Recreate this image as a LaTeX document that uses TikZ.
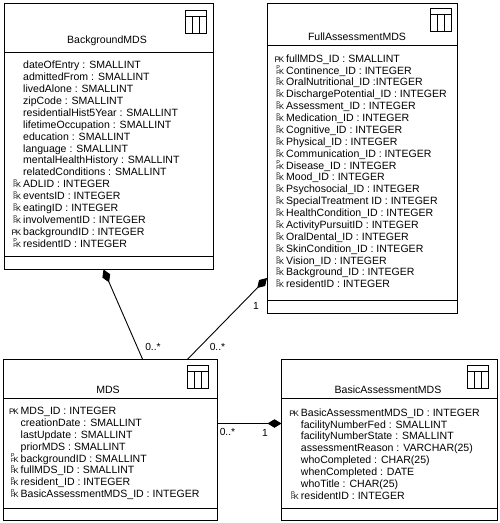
\documentclass[tikz,border=0pt]{standalone}
\usepackage{fontspec}
\setmainfont{Liberation Sans}
\usetikzlibrary{arrows.meta}
\newcommand{\keymark}[1]{\llap{\raisebox{0pt}[0pt][0pt]{#1}\hspace{2pt}}}
\newcommand{\pkey}{\keymark{\fontsize{8}{8}\selectfont P\kern-1.2pt K}}
\newcommand{\fkey}{\keymark{\rlap{\raisebox{4.1pt}{\fontsize{5.5}{5.5}\selectfont P}}\fontsize{5.5}{5.5}\selectfont F\kern-0.6pt\fontsize{7.5}{7.5}\selectfont K}}
\tikzset{
  table box/.style={draw=black,line width=1pt,fill=white,rectangle,anchor=north west,inner sep=0pt,outer sep=0pt},
  divider/.style={draw=black,line width=1pt},
  rows/.style={anchor=north west,align=left,inner sep=0pt,font=\fontsize{10.55}{11.88}\selectfont},
  title/.style={inner sep=0pt,font=\fontsize{10.55}{12}\selectfont},
  mult/.style={inner sep=0pt,font=\fontsize{10.3}{12}\selectfont},
  link/.style={draw=black,line width=0.9pt},
  whole/.style={link,-{Diamond[length=14pt,width=8.5pt,fill=black]}},
  pics/tableicon/.style={code={
    \draw[draw=black,line width=0.9pt] (0,0) rectangle (21,23);
    \draw[draw=black,line width=0.9pt] (0,6)--(21,6) (7,6)--(7,23) (14,6)--(14,23);
  }}
}
\begin{document}
\begin{tikzpicture}[x=1pt,y=-1pt]
\useasboundingbox (0,0) rectangle (500,523);
\fill[white] (0,0) rectangle (500,523);

% Boxes
\node[table box,minimum width=209pt,minimum height=266.5pt] (bg) at (4,3) {};
\node[table box,minimum width=189.5pt,minimum height=309.5pt] (full) at (267.5,3.5) {};
\node[table box,minimum width=214pt,minimum height=160.5pt] (mds) at (3,359.5) {};
\node[table box,minimum width=215.5pt,minimum height=160.5pt] (basic) at (281.5,359.5) {};

% Dividers
\draw[divider] (4,52) -- (213,52) (4,256) -- (213,256);
\draw[divider] (267.5,45.5) -- (457,45.5) (267.5,300) -- (457,300);
\draw[divider] (3,398) -- (217,398) (3,508) -- (217,508);
\draw[divider] (281.5,398) -- (497,398) (281.5,508) -- (497,508);

% Icons
\pic at (185,10) {tableicon};
\pic at (430,8.5) {tableicon};
\pic at (187,365) {tableicon};
\pic at (467,365) {tableicon};

% Titles
\node[title] (bgt) at (107,41) {BackgroundMDS};
\node[title] (fullt) at (357,36.7) {FullAssessmentMDS};
\node[title] (mdst) at (108,389.5) {MDS};
\node[title] (basict) at (388,389.5) {BasicAssessmentMDS};

% Rows
\node[rows] (bgr) at (23,61) {dateOfEntry : SMALLINT\\
admittedFrom : SMALLINT\\
livedAlone : SMALLINT\\
zipCode : SMALLINT\\
residentialHist5Year : SMALLINT\\
lifetimeOccupation : SMALLINT\\
education : SMALLINT\\
language : SMALLINT\\
mentalHealthHistory : SMALLINT\\
relatedConditions : SMALLINT\\
\fkey ADLID : INTEGER\\
\fkey eventsID : INTEGER\\
\fkey eatingID : INTEGER\\
\fkey involvementID : INTEGER\\
\pkey backgroundID : INTEGER\\
\fkey residentID : INTEGER};

\node[rows] (fullr) at (286,54.3) {\pkey fullMDS\_ID : SMALLINT\\
\fkey Continence\_ID : INTEGER\\
\fkey OralNutritional\_ID :INTEGER\\
\fkey DischargePotential\_ID : INTEGER\\
\fkey Assessment\_ID : INTEGER\\
\fkey Medication\_ID : INTEGER\\
\fkey Cognitive\_ID : INTEGER\\
\fkey Physical\_ID : INTEGER\\
\fkey Communication\_ID : INTEGER\\
\fkey Disease\_ID : INTEGER\\
\fkey Mood\_ID : INTEGER\\
\fkey Psychosocial\_ID : INTEGER\\
\fkey SpecialTreatment ID : INTEGER\\
\fkey HealthCondition\_ID : INTEGER\\
\fkey ActivityPursuitID : INTEGER\\
\fkey OralDental\_ID : INTEGER\\
\fkey SkinCondition\_ID : INTEGER\\
\fkey Vision\_ID : INTEGER\\
\fkey Background\_ID : INTEGER\\
\fkey residentID : INTEGER};

\node[rows] (mdsr) at (20.5,407) {\pkey MDS\_ID : INTEGER\\
creationDate : SMALLINT\\
lastUpdate : SMALLINT\\
priorMDS : SMALLINT\\
\fkey backgroundID : SMALLINT\\
\fkey fullMDS\_ID : SMALLINT\\
\fkey resident\_ID : INTEGER\\
\fkey BasicAssessmentMDS\_ID : INTEGER};

\node[rows] (basicr) at (300.7,408.3) {\pkey BasicAssessmentMDS\_ID : INTEGER\\
facilityNumberFed : SMALLINT\\
facilityNumberState : SMALLINT\\
assessmentReason : VARCHAR(25)\\
whoCompleted : CHAR(25)\\
whenCompleted : DATE\\
whoTitle : CHAR(25)\\
\fkey residentID : INTEGER};

% Connectors
\coordinate (bgEnd) at (103.5,269.5);
\coordinate (mdsA) at (142.7,359.5);
\coordinate (mdsB) at (187.3,359.5);
\coordinate (fullEnd) at (267,278);
\coordinate (mdsC) at (217,423.5);
\coordinate (basicEnd) at (281.5,423.5);
\draw[whole] (mdsA) -- (bgEnd);
\draw[whole] (mdsB) -- (fullEnd);
\draw[whole] (mdsC) -- (basicEnd);

% Multiplicities
\node[mult] (m1) at (153,346.7) {0..*};
\node[mult] (m2) at (217.5,346.7) {0..*};
\node[mult] (m3) at (256,305.5) {1};
\node[mult] (m4) at (227.5,432) {0..*};
\node[mult] (m5) at (265,433) {1};
\end{tikzpicture}
\end{document}
